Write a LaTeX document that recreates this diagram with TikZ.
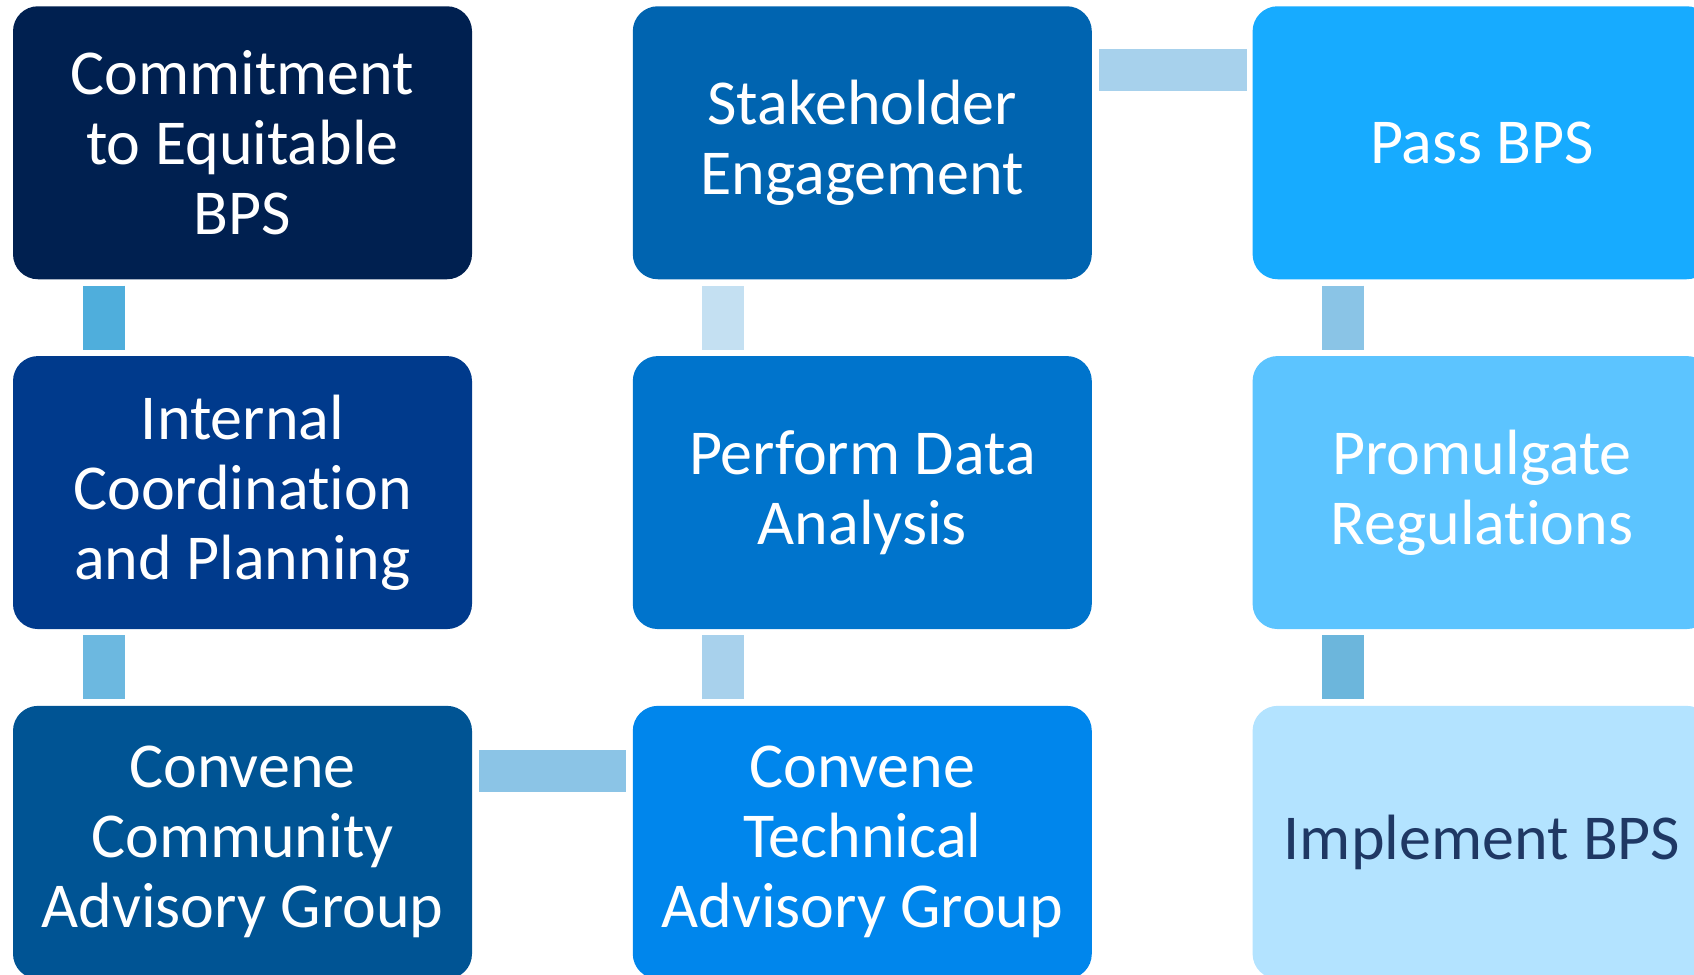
\documentclass[tikz,border=0pt]{standalone}
\usepackage{fontspec}
\setmainfont{Carlito}[Ligatures={NoCommon,NoRequired,NoContextual}]
\usepackage{xcolor}
\usepackage{tikz}
\usetikzlibrary{positioning}

\definecolor{boxA}{HTML}{002050}
\definecolor{boxB}{HTML}{003A8C}
\definecolor{boxC}{HTML}{005494}
\definecolor{boxD}{HTML}{0064B0}
\definecolor{boxE}{HTML}{0074CC}
\definecolor{boxF}{HTML}{0086EC}
\definecolor{boxG}{HTML}{17ABFF}
\definecolor{boxH}{HTML}{5CC4FF}
\definecolor{boxI}{HTML}{B3E3FF}
\definecolor{darktext}{HTML}{1F3864}

\tikzset{
  stage/.style={rectangle, rounded corners=12.5pt, minimum width=229.5pt,
    minimum height=136.5pt, inner sep=0pt, align=center, text=white,
    font=\fontsize{32}{35}\selectfont},
  link/.style={line width=21pt}
}

\begin{document}
\begin{tikzpicture}[node distance=38pt and 80pt]
            \useasboundingbox (0,0) rectangle (847pt,-487.5pt);
            \clip (0,0) rectangle (847pt,-487.5pt);

            \node [stage, fill=boxA] (A) at (121.25pt,-71.375pt) {Commitment\\to Equitable\\BPS};
            \node [stage, fill=boxB] (B) [below=of A] {Internal\\Coordination\\and Planning};
            \node [stage, fill=boxC] (C) [below=of B] {Convene\\Community\\Advisory Group};

            \node [stage, fill=boxD] (D) [right=of A] {Stakeholder\\Engagement};
            \node [stage, fill=boxE] (E) [below=of D] {Perform Data\\Analysis};
            \node [stage, fill=boxF] (F) [below=of E] {Convene\\Technical\\Advisory Group};

            \node [stage, fill=boxG] (G) [right=of D] {Pass BPS};
            \node [stage, fill=boxH] (H) [below=of G] {Promulgate\\Regulations};
            \node [stage, fill=boxI, text=darktext] (I) [below=of H] {Implement BPS};

            % connectors
            \draw [link, color={rgb,255:red,79;green,174;blue,220}] ([xshift=45.5pt, yshift=-3pt]A.south west) -- ([xshift=45.5pt, yshift=3pt]B.north west);
            \draw [link, color={rgb,255:red,108;green,184;blue,224}] ([xshift=45.5pt, yshift=-3pt]B.south west) -- ([xshift=45.5pt, yshift=3pt]C.north west);
            \draw [link, color={rgb,255:red,139;green,196;blue,230}] ([xshift=3.5pt, yshift=-32.75pt]C.north east) -- ([xshift=-3pt, yshift=-32.75pt]F.north west);
            \draw [link, color={rgb,255:red,168;green,209;blue,236}] ([xshift=45.5pt, yshift=3pt]F.north west) -- ([xshift=45.5pt, yshift=-3pt]E.south west);
            \draw [link, color={rgb,255:red,196;green,224;blue,242}] ([xshift=45.5pt, yshift=3pt]E.north west) -- ([xshift=45.5pt, yshift=-3pt]D.south west);
            \draw [link, color={rgb,255:red,167;green,209;blue,236}] ([xshift=3.5pt, yshift=-32.25pt]D.north east) -- ([xshift=-2.5pt, yshift=-32.25pt]G.north west);
            \draw [link, color={rgb,255:red,138;green,196;blue,230}] ([xshift=45.5pt, yshift=-3pt]G.south west) -- ([xshift=45.5pt, yshift=3pt]H.north west);
            \draw [link, color={rgb,255:red,108;green,182;blue,220}] ([xshift=45.5pt, yshift=-3pt]H.south west) -- ([xshift=45.5pt, yshift=3pt]I.north west);
        \end{tikzpicture}
\end{document}
